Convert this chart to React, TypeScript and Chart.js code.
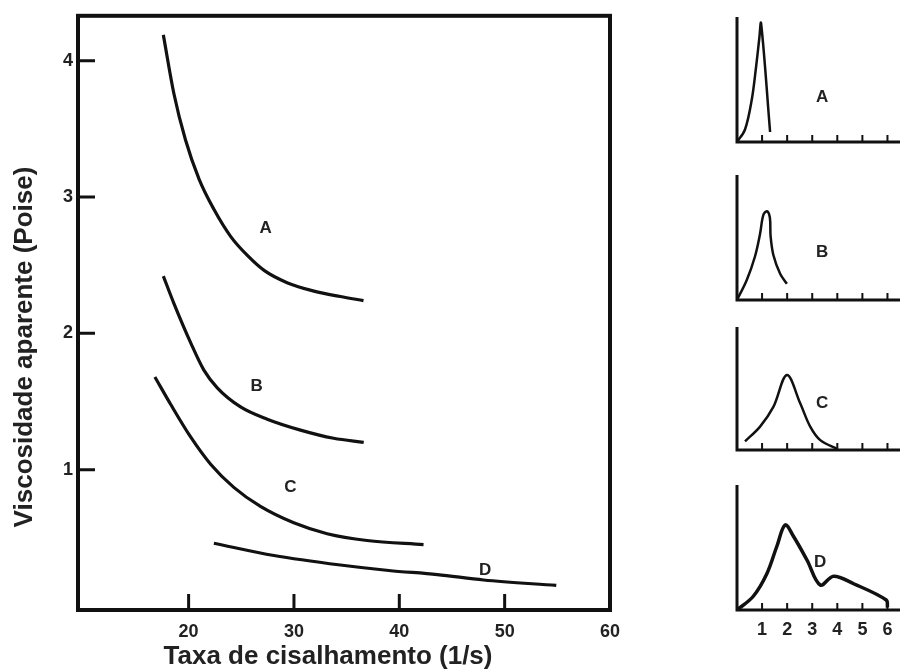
import React, { useEffect, useRef } from "react";
import { Chart, registerables } from "chart.js";

Chart.register(...registerables);

const FONT = "'Liberation Sans', Arial, Helvetica, sans-serif";
const INK = "#111111";
const TEXT = "#222222";

// ---------- Main chart data ----------
const xTicksMain = [20, 30, 40, 50, 60];
const xTickMarksMain = [20, 30, 40, 50];
const yTicksMain = [1, 2, 3, 4];
const xTitle = "Taxa de cisalhamento (1/s)";
const yTitle = "Viscosidade aparente (Poise)";

const curveNames = ["A", "B", "C", "D"];

const curveA = [
  { x: 17.6, y: 4.19 },
  { x: 18.6, y: 3.76 },
  { x: 19.7, y: 3.42 },
  { x: 21.0, y: 3.13 },
  { x: 22.4, y: 2.91 },
  { x: 24.0, y: 2.71 },
  { x: 25.6, y: 2.57 },
  { x: 27.2, y: 2.46 },
  { x: 29.4, y: 2.37 },
  { x: 31.9, y: 2.31 },
  { x: 34.4, y: 2.27 },
  { x: 36.6, y: 2.24 },
];
const curveB = [
  { x: 17.6, y: 2.42 },
  { x: 18.6, y: 2.22 },
  { x: 20.2, y: 1.93 },
  { x: 21.45, y: 1.73 },
  { x: 22.72, y: 1.6 },
  { x: 24.93, y: 1.46 },
  { x: 27.46, y: 1.37 },
  { x: 30.62, y: 1.29 },
  { x: 33.77, y: 1.23 },
  { x: 36.62, y: 1.2 },
];
const curveC = [
  { x: 16.8, y: 1.68 },
  { x: 18.29, y: 1.48 },
  { x: 20.19, y: 1.24 },
  { x: 22.09, y: 1.04 },
  { x: 24.29, y: 0.87 },
  { x: 26.82, y: 0.73 },
  { x: 29.98, y: 0.61 },
  { x: 33.15, y: 0.53 },
  { x: 36.94, y: 0.48 },
  { x: 42.3, y: 0.45 },
];
const curveD = [
  { x: 22.4, y: 0.46 },
  { x: 28.1, y: 0.37 },
  { x: 34.4, y: 0.3 },
  { x: 39.0, y: 0.26 },
  { x: 43.6, y: 0.23 },
  { x: 48.0, y: 0.19 },
  { x: 54.9, y: 0.15 },
];
const mainCurves = [curveA, curveB, curveC, curveD];
const mainLabelX = [27.3, 26.45, 29.67, 48.15];
const mainLabelY = [2.77, 1.61, 0.87, 0.26];

// ---------- Small distribution charts data ----------
const smallTicks = [1, 2, 3, 4, 5, 6];
const distA = [
  { x: 0, y: 0 },
  { x: 0.32, y: 0.1 },
  { x: 0.59, y: 0.34 },
  { x: 0.76, y: 0.6 },
  { x: 0.89, y: 0.83 },
  { x: 0.96, y: 0.95 },
  { x: 1.32, y: 0.08 },
];
const distB = [
  { x: 0, y: 0 },
  { x: 0.39, y: 0.16 },
  { x: 0.72, y: 0.35 },
  { x: 0.92, y: 0.53 },
  { x: 1.05, y: 0.68 },
  { x: 1.19, y: 0.71 },
  { x: 1.31, y: 0.66 },
  { x: 1.34, y: 0.51 },
  { x: 1.45, y: 0.36 },
  { x: 1.72, y: 0.21 },
  { x: 1.99, y: 0.13 },
];
const distC = [
  { x: 0.32, y: 0.07 },
  { x: 0.92, y: 0.19 },
  { x: 1.45, y: 0.35 },
  { x: 1.99, y: 0.61 },
  { x: 2.52, y: 0.38 },
  { x: 2.92, y: 0.19 },
  { x: 3.32, y: 0.08 },
  { x: 3.99, y: 0.01 },
];
const distD = [
  { x: 0, y: 0 },
  { x: 0.65, y: 0.11 },
  { x: 1.19, y: 0.29 },
  { x: 1.59, y: 0.51 },
  { x: 1.92, y: 0.68 },
  { x: 2.25, y: 0.59 },
  { x: 2.79, y: 0.4 },
  { x: 3.32, y: 0.2 },
  { x: 3.85, y: 0.27 },
  { x: 4.65, y: 0.21 },
  { x: 5.95, y: 0.08 },
  { x: 6.0, y: 0.02 },
];
const smallDists = [distA, distB, distC, distD];
const smallLabelX = [3.4, 3.4, 3.4, 3.32];
const smallLabelY = [0.36, 0.38, 0.38, 0.38];

// ---------- Main chart ----------
const mainPlugin = {
  id: "mainDecor",
  afterDraw(chart: any) {
    const { ctx, chartArea: ca, scales } = chart;
    const xs = scales.x;
    const ys = scales.y;
    ctx.save();
    ctx.strokeStyle = INK;
    ctx.lineWidth = 4;
    ctx.strokeRect(ca.left, ca.top, ca.right - ca.left, ca.bottom - ca.top);
    ctx.lineWidth = 3;
    ctx.beginPath();
    yTicksMain.forEach((v) => {
      const py = ys.getPixelForValue(v);
      ctx.moveTo(ca.left, py);
      ctx.lineTo(ca.left + 17, py);
    });
    xTickMarksMain.forEach((v) => {
      const px = xs.getPixelForValue(v);
      ctx.moveTo(px, ca.bottom);
      ctx.lineTo(px, ca.bottom - 16);
    });
    ctx.stroke();
    ctx.fillStyle = TEXT;
    ctx.font = `bold 17px ${FONT}`;
    ctx.textAlign = "center";
    ctx.textBaseline = "middle";
    curveNames.forEach((n, i) => {
      ctx.fillText(n, xs.getPixelForValue(mainLabelX[i]), ys.getPixelForValue(mainLabelY[i]));
    });
    ctx.font = `bold 26px ${FONT}`;
    ctx.fillText(xTitle, 328, 657);
    ctx.translate(25, 347);
    ctx.rotate(-Math.PI / 2);
    ctx.fillText(yTitle, 0, 0);
    ctx.restore();
  },
};

function MainChart() {
  const ref = useRef<HTMLCanvasElement | null>(null);
  useEffect(() => {
    if (!ref.current) return;
    const chart = new Chart(ref.current, {
      type: "line",
      data: {
        datasets: mainCurves.map((d, i) => ({
          label: curveNames[i],
          data: d,
          borderColor: INK,
          borderWidth: 3.2,
          pointRadius: 0,
          fill: false,
          cubicInterpolationMode: "monotone",
        })),
      },
      options: {
        responsive: false,
        animation: false,
        layout: { padding: { top: 15, right: 30, left: 0, bottom: 0 } },
        plugins: { legend: { display: false }, tooltip: { enabled: false } },
        scales: {
          x: {
            type: "linear",
            min: 9.5,
            max: 60,
            grid: { display: false, drawTicks: false },
            border: { display: false },
            afterBuildTicks: (s: any) => {
              s.ticks = xTicksMain.map((v) => ({ value: v }));
            },
            afterFit: (s: any) => {
              s.height = 61;
            },
            ticks: {
              font: { family: FONT, size: 18, weight: "bold" },
              color: TEXT,
              padding: 11,
              maxRotation: 0,
              autoSkip: false,
            },
          },
          y: {
            type: "linear",
            min: -0.03,
            max: 4.33,
            grid: { display: false, drawTicks: false },
            border: { display: false },
            afterBuildTicks: (s: any) => {
              s.ticks = yTicksMain.map((v) => ({ value: v }));
            },
            afterFit: (s: any) => {
              s.width = 78;
            },
            ticks: {
              font: { family: FONT, size: 18, weight: "bold" },
              color: TEXT,
              padding: 5,
              autoSkip: false,
            },
          },
        },
      } as any,
      plugins: [mainPlugin],
    });
    return () => chart.destroy();
  }, []);
  return (
    <canvas
      ref={ref}
      width={640}
      height={671}
      style={{ position: "absolute", left: 0, top: 0, width: 640, height: 671, display: "block" }}
    />
  );
}

// ---------- Small charts ----------
type SmallProps = {
  index: number;
  areaTop: number;
  areaBottom: number;
  showTickLabels: boolean;
  lineWidth: number;
};

function SmallChart({ index, areaTop, areaBottom, showTickLabels, lineWidth }: SmallProps) {
  const ref = useRef<HTMLCanvasElement | null>(null);
  const canvasTop = areaTop - 7;
  const canvasHeight = showTickLabels ? 671 - canvasTop : areaBottom - areaTop + 15;
  useEffect(() => {
    if (!ref.current) return;
    const plugin = {
      id: "smallDecor" + index,
      afterDraw(chart: any) {
        const { ctx, chartArea: ca, scales } = chart;
        const xs = scales.x;
        const ys = scales.y;
        const x0 = xs.getPixelForValue(0);
        const y0 = ys.getPixelForValue(0);
        ctx.save();
        ctx.strokeStyle = INK;
        ctx.lineWidth = 3;
        ctx.beginPath();
        ctx.moveTo(x0, ca.top);
        ctx.lineTo(x0, y0);
        ctx.lineTo(ca.right, y0);
        ctx.stroke();
        ctx.lineWidth = 2;
        ctx.beginPath();
        smallTicks.forEach((v) => {
          const px = xs.getPixelForValue(v);
          ctx.moveTo(px, y0);
          ctx.lineTo(px, y0 - 7);
        });
        ctx.stroke();
        ctx.fillStyle = TEXT;
        ctx.font = `bold 17px ${FONT}`;
        ctx.textAlign = "center";
        ctx.textBaseline = "middle";
        ctx.fillText(
          curveNames[index],
          xs.getPixelForValue(smallLabelX[index]),
          ys.getPixelForValue(smallLabelY[index])
        );
        ctx.restore();
      },
    };
    const xScale: any = {
      type: "linear",
      min: 0,
      max: 6.5,
      display: showTickLabels,
      grid: { display: false, drawTicks: false },
      border: { display: false },
      afterBuildTicks: (s: any) => {
        s.ticks = smallTicks.map((v) => ({ value: v }));
      },
      ticks: {
        font: { family: FONT, size: 18, weight: "bold" },
        color: TEXT,
        padding: 9,
        maxRotation: 0,
        autoSkip: false,
      },
    };
    if (showTickLabels) {
      xScale.afterFit = (s: any) => {
        s.height = 61;
      };
    }
    const chart = new Chart(ref.current, {
      type: "line",
      data: {
        datasets: [
          {
            label: curveNames[index],
            data: smallDists[index],
            borderColor: INK,
            borderWidth: lineWidth,
            pointRadius: 0,
            fill: false,
            tension: 0.35,
            clip: 8,
          },
        ],
      },
      options: {
        responsive: false,
        animation: false,
        layout: { padding: { top: 7, right: 2, left: 17, bottom: showTickLabels ? 0 : 8 } },
        plugins: { legend: { display: false }, tooltip: { enabled: false } },
        scales: {
          x: xScale,
          y: {
            type: "linear",
            min: 0,
            max: 1,
            display: false,
          },
        },
      } as any,
      plugins: [plugin],
    });
    return () => chart.destroy();
  }, []);
  return (
    <canvas
      ref={ref}
      width={182}
      height={canvasHeight}
      style={{
        position: "absolute",
        left: 720,
        top: canvasTop,
        width: 182,
        height: canvasHeight,
        display: "block",
      }}
    />
  );
}

export default function App() {
  return (
    <div
      style={{
        position: "absolute",
        left: 0,
        top: 0,
        width: 902,
        height: 671,
        background: "#ffffff",
        overflow: "hidden",
      }}
    >
      <MainChart />
      <SmallChart index={0} areaTop={17} areaBottom={142} showTickLabels={false} lineWidth={2.5} />
      <SmallChart index={1} areaTop={175} areaBottom={300} showTickLabels={false} lineWidth={2.5} />
      <SmallChart index={2} areaTop={327} areaBottom={450} showTickLabels={false} lineWidth={2.5} />
      <SmallChart index={3} areaTop={485} areaBottom={610} showTickLabels={true} lineWidth={3.5} />
    </div>
  );
}
